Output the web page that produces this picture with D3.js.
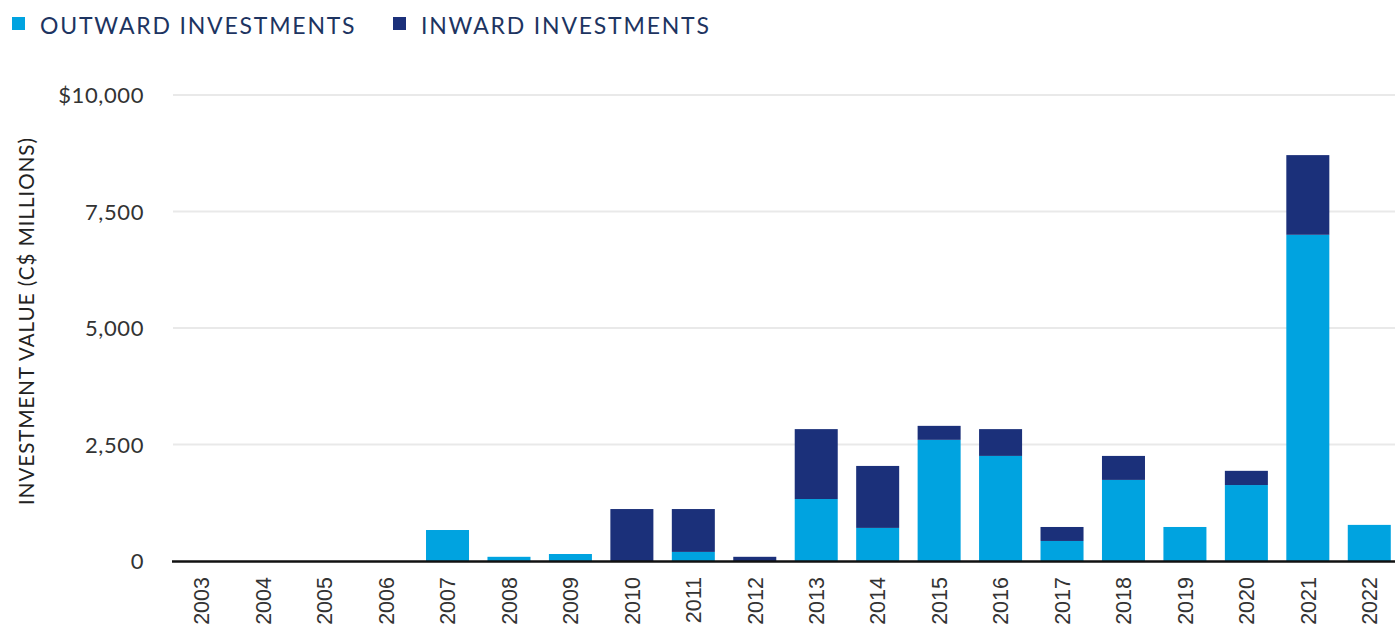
<!DOCTYPE html>
<html><head><meta charset="utf-8">
<script src="https://cdn.jsdelivr.net/npm/d3@7"></script>
<style>
body{margin:0;background:#fff;}
svg{display:block;}
</style></head>
<body>
<svg id="chart" width="1395" height="628"></svg>
<script>
const years = ["2003","2004","2005","2006","2007","2008","2009","2010","2011","2012","2013","2014","2015","2016","2017","2018","2019","2020","2021","2022"];
const outward = [0,0,0,0,665,90,150,0,195,0,1330,710,2600,2255,430,1740,730,1630,7000,775];
const inward  = [0,0,0,0,0,0,0,1115,920,90,1500,1330,300,575,300,515,0,305,1710,0];
const yTicks = [0,2500,5000,7500,10000];
const seriesNames = ["OUTWARD INVESTMENTS","INWARD INVESTMENTS"];
const colors = ["#00A3E0","#1B307A"];

const svg = d3.select("#chart");
const W = 1395, H = 628;

const x = d3.scaleBand().domain(years).range([171, 1400]).paddingInner(0.3).paddingOuter(0.15);
const y = d3.scaleLinear().domain([0,10000]).range([561, 95]);

// gridlines
svg.append("g").selectAll("line").data(yTicks.filter(d=>d>0)).join("line")
  .attr("x1",173).attr("x2",W).attr("y1",d=>y(d)).attr("y2",d=>y(d))
  .attr("stroke","#e9e9e9").attr("stroke-width",2);

// y tick labels
const fmt = d => d===10000 ? "$" + d3.format(",")(d) : d3.format(",")(d);
const yAxis = d3.axisLeft(y).tickValues(yTicks).tickFormat(fmt).tickSize(0).tickPadding(0);
const gy = svg.append("g").attr("transform","translate(144,0)").call(yAxis);
gy.select(".domain").remove();
gy.selectAll("text").attr("font-family","Lato, 'Open Sans', sans-serif").attr("font-size",22)
  .attr("letter-spacing","0.6px").attr("fill","#333").attr("dy","0.35em");

// stacked data
const data = years.map((yr,i)=>({year:yr, outward:outward[i], inward:inward[i]}));
const stack = d3.stack().keys(["outward","inward"]);
const stacked = stack(data);

svg.append("g").selectAll("g").data(stacked).join("g")
  .attr("fill",(d,i)=>colors[i])
  .selectAll("rect").data(d=>d).join("rect")
  .attr("x",d=>x(d.data.year))
  .attr("width",x.bandwidth())
  .attr("y",d=>y(d[1]))
  .attr("height",d=>Math.max(0,y(d[0])-y(d[1])));

// x axis
const xAxis = d3.axisBottom(x).tickSize(0).tickPadding(0);
const gx = svg.append("g").attr("transform","translate(0,561)").call(xAxis);
gx.select(".domain").remove();
gx.selectAll("text")
  .attr("font-family","'Liberation Sans', Arial, sans-serif").attr("font-size",21.5).attr("fill","#333")
  .attr("transform","rotate(-90)").attr("text-anchor","end").attr("x",-16).attr("y",0).attr("dy","0.36em");

svg.append("line").attr("x1",172).attr("x2",W).attr("y1",561.5).attr("y2",561.5).attr("stroke","#111").attr("stroke-width",2.5);

// y axis title
svg.append("text").attr("transform","translate(27,321) rotate(-90)")
  .attr("text-anchor","middle").attr("dy","0.35em")
  .attr("font-family","Lato, 'Open Sans', sans-serif").attr("font-size",20.5).attr("letter-spacing","1px").attr("fill","#222")
  .text("INVESTMENT VALUE (C$ MILLIONS)");

// legend
const legendX = [12, 393];
const lg = svg.append("g").selectAll("g").data(seriesNames).join("g")
  .attr("transform",(d,i)=>`translate(${legendX[i]},0)`);
lg.append("rect").attr("x",0).attr("y",17).attr("width",13).attr("height",13).attr("fill",(d,i)=>colors[i]);
lg.append("text").attr("x",28).attr("y",26).attr("dy","0.35em")
  .attr("font-family","Lato, 'Open Sans', sans-serif").attr("font-size",23).attr("letter-spacing","1.8px")
  .attr("fill","#1D3461").text(d=>d);
</script>
</body></html>
